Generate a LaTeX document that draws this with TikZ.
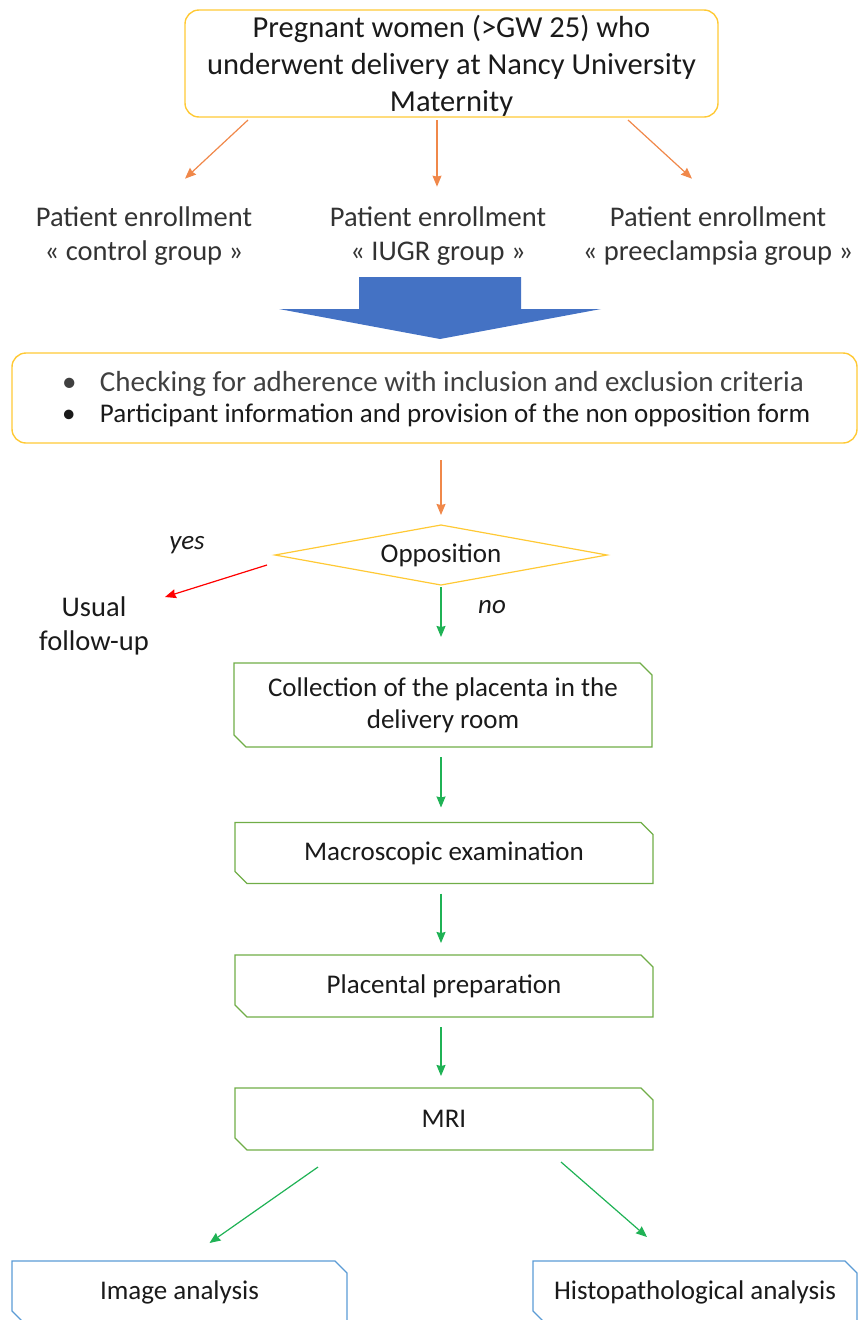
\documentclass[tikz,border=0pt]{standalone}
\usepackage{fontspec}
\setmainfont{Carlito}
\usetikzlibrary{arrows.meta,shapes.geometric,shapes.misc,calc}
\definecolor{gold}{HTML}{FFC935}
\definecolor{orng}{HTML}{F0884A}
\definecolor{grnbox}{HTML}{70AD47}
\definecolor{grnarrow}{HTML}{1FB255}
\definecolor{bluebox}{HTML}{5B9BD5}
\definecolor{bigarrow}{HTML}{4472C4}
\definecolor{softblack}{HTML}{1A1A1A}
\definecolor{darkgray}{HTML}{333333}
\definecolor{lightline}{HTML}{404040}
\begin{document}
\begin{tikzpicture}[x=1pt,y=-1pt,
  every node/.style={inner sep=0pt, outer sep=0pt, text=softblack},
  bigtxt/.style={font=\fontsize{30.5}{37}\selectfont, align=center},
  midtxt/.style={font=\fontsize{28.5}{34}\selectfont, align=center},
  goldbox/.style={draw=gold, line width=1.4pt, rounded corners=14pt},
  stepbox/.style={chamfered rectangle, chamfered rectangle corners={north east,south west},
    chamfered rectangle xsep=6pt, chamfered rectangle ysep=6pt,
    draw=grnbox, line width=1.1pt, minimum width=418pt, font=\fontsize{27}{32}\selectfont, align=center},
  endbox/.style={stepbox, draw=bluebox},
  orangearrow/.style={draw=orng, line width=1.2pt, -{Stealth[length=11pt,width=9pt,inset=1pt]}},
  greenarrow/.style={draw=grnarrow, line width=1.2pt, -{Stealth[length=11pt,width=9pt,inset=1pt]}},
  redarrow/.style={draw=red, line width=1.2pt, -{Stealth[length=11pt,width=9pt,inset=1pt]}}
]
\useasboundingbox (0,0) rectangle (858,1320);

% Source population
\node[goldbox, bigtxt, minimum width=533pt, minimum height=107pt] (top) at (451.5,63.5) {};
\node[bigtxt] (toptext) at (451.5,65.5)
  {Pregnant women (>GW 25) who\\underwent delivery at Nancy University\\Maternity};

% Three enrollment groups
\node[midtxt, text=darkgray] (e1) at (144,236) {Patient enrollment\\« control group »};
\node[midtxt, text=darkgray] (e2) at (438,236) {Patient enrollment\\« IUGR group »};
\node[midtxt, text=darkgray] (e3) at (718,236) {Patient enrollment\\« preeclampsia group »};

\draw[orangearrow] ([xshift=-203.5pt,yshift=-3pt]top.south) -- ([xshift=41pt,yshift=28pt]e1.center |- e1.north);
\draw[orangearrow] ([xshift=-14.5pt,yshift=-3pt]top.south) -- ([xshift=-1pt,yshift=20pt]e2.north);
\draw[orangearrow] ([xshift=176.5pt,yshift=-3pt]top.south) -- ([xshift=-26pt,yshift=28pt]e3.center |- e3.north);

% Block arrow towards the screening step
\fill[bigarrow] (359,277) -- (521,277) -- (521,309) -- (601,309) -- (440,339)
  -- (279,309) -- (359,309) -- cycle;

% Screening box
\node[goldbox, minimum width=845pt, minimum height=90pt] (crit) at (434.5,398) {};
\node[align=left, font=\fontsize{27}{31}\selectfont, anchor=west] (crittext) at (62,399.5)
  {{\fontsize{29}{31}\selectfont\color{lightline}\makebox[38pt][l]{•}Checking for adherence with inclusion and exclusion criteria}\\
   \makebox[38pt][l]{•}Participant information and provision of the non opposition form};

% Decision
\node[draw=gold, line width=1.2pt, diamond, shape aspect=5.5, minimum width=332pt, minimum height=60pt,
  font=\fontsize{27}{32}\selectfont] (dia) at (441,555) {Opposition};
\draw[orangearrow] ([yshift=-17pt]crit.south -| dia.north) -- ([yshift=10pt]dia.north);

\node[midtxt] (uf) at (94,626) {Usual\\follow-up};
\node[font=\fontsize{27}{32}\selectfont\itshape] (yes) at (187,545) {yes};
\node[font=\fontsize{27}{32}\selectfont\itshape] (no) at (492,607) {no};
\draw[redarrow] ([xshift=-8pt,yshift=-10pt]dia.west) -- ([xshift=71pt,yshift=29pt]uf.center);

% Processing chain
\node[stepbox, minimum height=84pt] (coll) at (443,705) {Collection of the placenta in the\\delivery room};
\node[stepbox, minimum height=61pt] (macro) at (444,853) {Macroscopic examination};
\node[stepbox, minimum height=62pt] (prep) at (444,986) {Placental preparation};
\node[stepbox, minimum height=62pt] (mri) at (444,1119) {MRI};

\draw[greenarrow] ([yshift=-2pt]dia.south) -- ([yshift=26pt]coll.north -| dia.south);
\draw[greenarrow] ([yshift=-10pt]coll.south -| dia.south) -- ([yshift=15pt]macro.north -| dia.south);
\draw[greenarrow] ([yshift=-10pt]macro.south -| dia.south) -- ([yshift=12pt]prep.north -| dia.south);
\draw[greenarrow] ([yshift=-10pt]prep.south -| dia.south) -- ([yshift=12pt]mri.north -| dia.south);

% Analyses
\node[endbox, minimum width=335pt, minimum height=62pt] (ia) at (179.5,1292) {Image analysis};
\node[endbox, minimum width=324pt, minimum height=62pt] (hp) at (695,1292) {Histopathological analysis};

\draw[greenarrow] ([xshift=-126pt,yshift=-17pt]mri.south) -- ([xshift=30pt,yshift=18pt]ia.north);
\draw[greenarrow] ([xshift=117pt,yshift=-12pt]mri.south) -- ([xshift=-48pt,yshift=24pt]hp.north);
\end{tikzpicture}
\end{document}
